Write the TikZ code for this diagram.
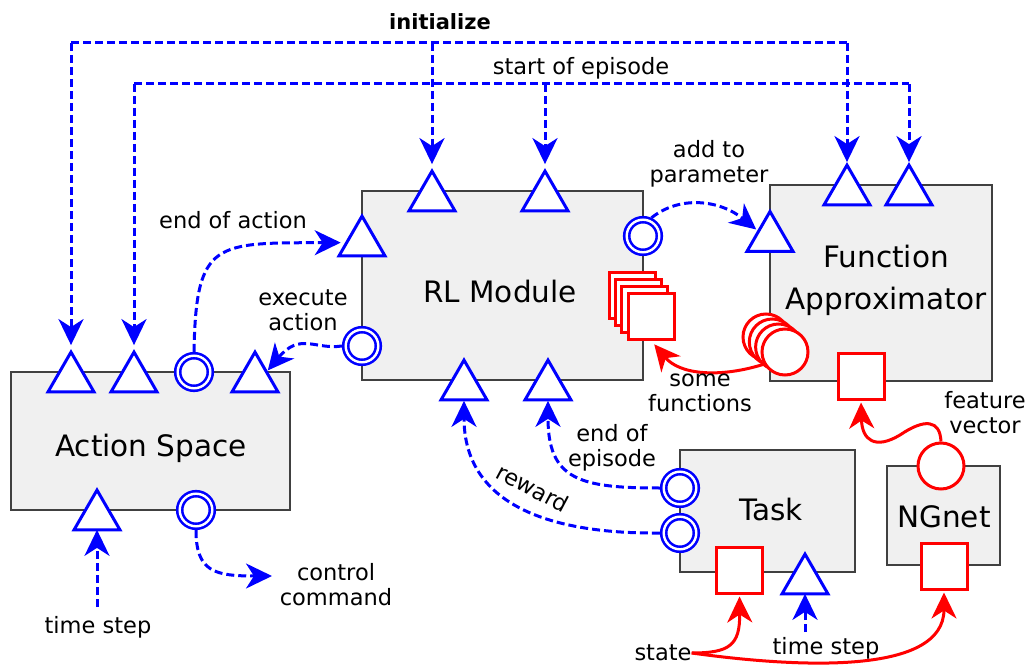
\documentclass[tikz,border=0pt]{standalone}
\usepackage{fontspec}
\setmainfont{DejaVu Sans}
\usetikzlibrary{shapes.geometric,arrows.meta}
\definecolor{boxfill}{HTML}{F0F0F0}
\definecolor{boxline}{HTML}{404040}
\definecolor{sigblue}{HTML}{0000FF}
\definecolor{sigred}{HTML}{FF0000}
\pgfdeclarelayer{boxes}
\pgfdeclarelayer{wires}
\pgfsetlayers{boxes,wires,main}
\begin{document}
\begin{tikzpicture}[x=1pt,y=-1pt,
  module/.style={draw=boxline,line width=1.5pt,fill=boxfill,inner sep=0,outer sep=0},
  title/.style={font=\fontsize{29.5}{42}\selectfont,align=center,inner sep=0},
  lbl/.style={font=\fontsize{22.5}{25}\selectfont,align=center,inner sep=0},
  tri/.style={regular polygon,regular polygon sides=3,draw=sigblue,line width=3pt,fill=white,minimum size=53pt,inner sep=0,outer sep=0},
  dcirc/.style={circle,draw=sigblue,double=white,double distance=2.4pt,line width=2.6pt,fill=white,minimum size=32.6pt,inner sep=0,outer sep=3.8pt},
  rsq/.style={rectangle,draw=sigred,line width=3pt,fill=white,minimum size=46pt,inner sep=0},
  rcirc/.style={circle,draw=sigred,line width=3pt,fill=white,minimum size=46pt,inner sep=0},
  arrowhd/.style={-{Stealth[length=26pt,width=25pt,inset=8pt]}},
  bus/.style={draw=sigblue,line width=3pt,dash pattern=on 8pt off 4pt},
  sig/.style={bus,arrowhd},
  flow/.style={draw=sigred,line width=3pt,arrowhd},
]
\useasboundingbox (0,0) rectangle (1029,666);

% modules
\begin{pgfonlayer}{boxes}
\node[module,minimum width=279pt,minimum height=138pt] (as) at (150.5,441) {};
\node[module,minimum width=281pt,minimum height=189pt] (rl) at (502.5,285.5) {};
\node[module,minimum width=222pt,minimum height=196pt] (fa) at (881,283) {};
\node[module,minimum width=175pt,minimum height=122pt] (task) at (767.5,511) {};
\node[module,minimum width=113pt,minimum height=99pt] (ng) at (943.5,515.5) {};
\end{pgfonlayer}

\node[title] (as-title) at (151,448) {Action Space};
\node[title] (rl-title) at (500,292) {RL Module};
\node[title] (fa-title) at (886,280) {Function\\Approximator};
\node[title] (task-title) at (771,509) {Task};
\node[title] (ng-title) at (944,517) {NGnet};

% ports of the action space
\node[tri] (ast1) at (71,378.6) {};
\node[tri] (ast2) at (134,378.6) {};
\node[dcirc] (asdc1) at (194,372) {};
\node[tri] (ast3) at (255,378.6) {};
\node[tri] (ast4) at (97,516.6) {};
\node[dcirc] (asdc2) at (196,510) {};

% ports of the RL module
\node[tri] (rlt1) at (432,197.6) {};
\node[tri] (rlt2) at (545,197.6) {};
\node[tri] (rltl) at (362,242.6) {};
\node[dcirc] (rldc1) at (362,346) {};
\node[dcirc] (rldc2) at (643,236) {};
\node[tri] (rlb1) at (464,386.6) {};
\node[tri] (rlb2) at (548,386.6) {};
\node[rsq] (rsq1) at (632.1,295) {};
\node[rsq] (rsq2) at (638.4,302) {};
\node[rsq] (rsq3) at (644.7,309) {};
\node[rsq] (rsq4) at (651,316) {};

% ports of the function approximator
\node[tri] (fat1) at (847,191.6) {};
\node[tri] (fat2) at (909,191.6) {};
\node[tri] (fatl) at (770,238) {};
\node[rcirc] (fac1) at (766,337) {};
\node[rcirc] (fac2) at (772.3,342) {};
\node[rcirc] (fac3) at (778.6,347) {};
\node[rcirc] (fac4) at (785,352) {};
\node[rsq] (fasq) at (861,376) {};

% ports of the task and the NGnet
\node[dcirc] (tdc1) at (680,488) {};
\node[dcirc] (tdc2) at (680,533) {};
\node[rsq] (tsq) at (739.5,570) {};
\node[tri] (tt) at (805,580.6) {};
\node[rcirc] (ngc) at (941,466) {};
\node[rsq] (ngsq) at (944,566) {};

% labels
\node[lbl,font=\fontsize{21}{25}\selectfont\bfseries] (l-init) at (440,22) {initialize};
\node[lbl] (l-start) at (581,68) {start of episode};
\node[lbl] (l-add) at (709,164) {add to\\parameter};
\node[lbl] (l-eoa) at (233,220) {end of action};
\node[lbl] (l-exec) at (303,310) {execute\\action};
\node[lbl] (l-some) at (700,393) {some\\functions};
\node[lbl] (l-feat) at (985,413) {feature\\vector};
\node[lbl] (l-eoe) at (612,448) {end of\\episode};
\node[lbl,rotate=-28] (l-rew) at (533,488) {reward};
\node[lbl] (l-cc) at (336,585) {control\\command};
\node[lbl] (l-ts1) at (98,627) {time step};
\node[lbl] (l-ts2) at (826,648) {time step};
\node[lbl] (l-state) at (663,653) {state};

\begin{pgfonlayer}{wires}
% initialize
\coordinate (i-l) at (71,43);
\coordinate (i-m) at (432,43);
\coordinate (i-r) at (847,43);
\draw[bus] (i-l) -- (i-r);
\draw[sig,shorten >=7pt] (i-l) -- (ast1.north);
\draw[sig,shorten >=7pt] (i-m) -- (rlt1.north);
\draw[sig,shorten >=3pt] (i-r) -- (fat1.north);
% start of episode
\coordinate (s-l) at (134,84);
\coordinate (s-m) at (545,84);
\coordinate (s-r) at (909,84);
\draw[bus] (s-l) -- (s-r);
\draw[sig,shorten >=7pt] (s-l) -- (ast2.north);
\draw[sig,shorten >=7pt] (s-m) -- (rlt2.north);
\draw[sig,shorten >=3pt] (s-r) -- (fat2.north);
% action loop
\draw[sig,shorten >=6pt] (asdc1.north) .. controls (196,240) and (215,243) .. (rltl.west);
\draw[sig,shorten >=2pt] (rldc1.west) .. controls (315,350) and (300,332) .. (ast3.side 3);
% parameter update and functions
\draw[sig,shorten >=3pt] (rldc2.65) .. controls (680,195) and (720,200) .. (fatl.side 1);
\draw[flow,shorten >=5pt] (fac4.210) .. controls (720,378) and (680,375) .. (rsq4.south);
\draw[flow,shorten >=2pt] (ngc.north) .. controls (940,420) and (925,418) .. (900,435)
  .. controls (875,450) and (862,440) .. (fasq.south);
% task outputs
\draw[sig,shorten >=1pt] (tdc2.west) .. controls (560,534) and (464,510) .. (rlb1.south);
\draw[sig,shorten >=1pt] (tdc1.west) .. controls (580,488) and (548,480) .. (rlb2.south);
% time steps
\coordinate (ts1-src) at (97,607);
\draw[sig] (ts1-src) -- (ast4.south);
\coordinate (ts2-src) at (805,632);
\draw[sig] (ts2-src) -- (tt.south);
% control command
\coordinate (cc-end) at (272,576);
\draw[sig] (asdc2.south) .. controls (196,572) and (215,576) .. (cc-end);
% state
\draw[flow,shorten >=2pt] (l-state.east) .. controls (730,653) and (740,645) .. (tsq.south);
\draw[flow,shorten >=2pt] (l-state.east) .. controls (800,668) and (944,675) .. (ngsq.south);
\end{pgfonlayer}
\end{tikzpicture}
\end{document}
